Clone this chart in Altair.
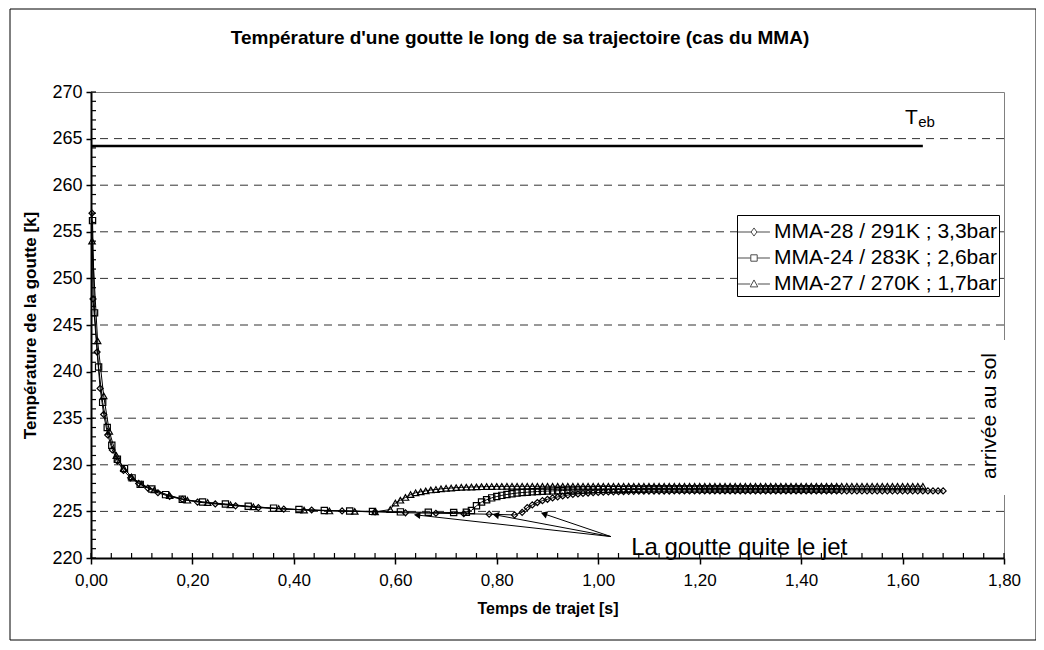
import math
import altair as alt
import pandas as pd

FONT = "Liberation Sans"

NAMES = ["MMA-28 / 291K ; 3,3bar", "MMA-24 / 283K ; 2,6bar", "MMA-27 / 270K ; 1,7bar"]

# --- MMA-28 (diamonds)
t28 = [0.002, 0.004, 0.012, 0.018, 0.025, 0.033, 0.042, 0.052, 0.064, 0.078, 0.094, 0.112,
       0.132, 0.155, 0.18, 0.21, 0.245, 0.285, 0.33, 0.38, 0.435, 0.495, 0.56, 0.62, 0.68,
       0.735, 0.785, 0.835,
       0.85, 0.86, 0.87, 0.88, 0.89, 0.90, 0.91, 0.92, 0.93, 0.94, 0.95, 0.96, 0.97, 0.98, 0.99,
       1.00, 1.01, 1.02, 1.03, 1.04, 1.05, 1.06, 1.07, 1.08, 1.09,
       1.10, 1.11, 1.12, 1.13, 1.14, 1.15, 1.16, 1.17, 1.18, 1.19,
       1.20, 1.21, 1.22, 1.23, 1.24, 1.25, 1.26, 1.27, 1.28, 1.29,
       1.30, 1.31, 1.32, 1.33, 1.34, 1.35, 1.36, 1.37, 1.38, 1.39,
       1.40, 1.41, 1.42, 1.43, 1.44, 1.45, 1.46, 1.47, 1.48, 1.49,
       1.50, 1.51, 1.52, 1.53, 1.54, 1.55, 1.56, 1.57, 1.58, 1.59,
       1.60, 1.61, 1.62, 1.63, 1.64, 1.65, 1.66, 1.67, 1.68]
v28 = [257.0, 247.8, 242.1, 238.2, 235.4, 233.2, 231.6, 230.4, 229.4, 228.6, 228.0, 227.5,
       227.0, 226.6, 226.3, 226.0, 225.8, 225.6, 225.4, 225.25, 225.15, 225.05, 224.95, 224.85, 224.8,
       224.75, 224.7, 224.62,
       224.9, 225.4, 225.7, 225.95, 226.15, 226.3, 226.45, 226.55, 226.65, 226.75, 226.82, 226.88, 226.93, 226.97, 227.0,
       227.03, 227.06, 227.08, 227.1, 227.12, 227.13, 227.14, 227.15, 227.16, 227.17,
       227.18, 227.18, 227.18, 227.18, 227.18, 227.19, 227.19, 227.19, 227.19, 227.19,
       227.2, 227.2, 227.2, 227.2, 227.2, 227.2, 227.2, 227.2, 227.2, 227.2,
       227.2, 227.2, 227.2, 227.2, 227.2, 227.2, 227.2, 227.2, 227.2, 227.2,
       227.2, 227.2, 227.2, 227.2, 227.2, 227.2, 227.2, 227.2, 227.2, 227.2,
       227.2, 227.2, 227.2, 227.2, 227.2, 227.2, 227.2, 227.2, 227.2, 227.2,
       227.2, 227.2, 227.2, 227.2, 227.2, 227.2, 227.2, 227.2, 227.2]

# --- MMA-24 (squares)
t24 = [0.003, 0.007, 0.015, 0.023, 0.032, 0.041, 0.052, 0.066, 0.081, 0.097, 0.12, 0.147,
       0.18, 0.22, 0.265, 0.31, 0.36, 0.41, 0.46, 0.51, 0.555, 0.61, 0.665, 0.715,
       0.74, 0.75, 0.76, 0.77, 0.78, 0.79, 0.80, 0.81, 0.82, 0.83, 0.84, 0.85, 0.86, 0.87, 0.88, 0.89,
       0.90, 0.91, 0.92, 0.93, 0.94, 0.95, 0.96, 0.97, 0.98, 0.99,
       1.00, 1.01, 1.02, 1.03, 1.04, 1.05, 1.06, 1.07, 1.08, 1.09,
       1.10, 1.11, 1.12, 1.13, 1.14, 1.15, 1.16, 1.17, 1.18, 1.19,
       1.20, 1.21, 1.22, 1.23, 1.24, 1.25, 1.26, 1.27, 1.28, 1.29,
       1.30, 1.31, 1.32, 1.33, 1.34, 1.35, 1.36, 1.37, 1.38, 1.39,
       1.40, 1.41, 1.42, 1.43, 1.44, 1.45, 1.46, 1.47]
v24 = [256.2, 246.3, 240.5, 236.7, 234.0, 232.1, 230.6, 229.6, 228.6, 227.9, 227.4, 226.8,
       226.3, 226.0, 225.8, 225.55, 225.35, 225.2, 225.1, 225.05, 225.0, 224.95, 224.9, 224.88,
       224.9, 225.1, 225.6, 226.0, 226.25, 226.45, 226.6, 226.72, 226.82, 226.9, 226.97, 227.02, 227.06, 227.1, 227.13, 227.16,
       227.18, 227.2, 227.22, 227.24, 227.26, 227.28, 227.3, 227.31, 227.32, 227.33,
       227.34, 227.34, 227.35, 227.35, 227.36, 227.36, 227.37, 227.37, 227.38, 227.38,
       227.4, 227.4, 227.4, 227.4, 227.4, 227.4, 227.4, 227.4, 227.4, 227.4,
       227.4, 227.4, 227.4, 227.4, 227.4, 227.4, 227.4, 227.4, 227.4, 227.4,
       227.4, 227.4, 227.4, 227.4, 227.4, 227.4, 227.4, 227.4, 227.4, 227.4,
       227.4, 227.4, 227.4, 227.4, 227.4, 227.4, 227.4, 227.4]

# --- MMA-27 (triangles)
t27 = [0.002, 0.013, 0.025, 0.036, 0.05, 0.065, 0.08, 0.1, 0.125, 0.155, 0.19, 0.23, 0.275,
       0.32, 0.37, 0.42, 0.47, 0.52, 0.56,
       0.59, 0.60, 0.61, 0.62, 0.63, 0.64, 0.65, 0.66, 0.67, 0.68, 0.69,
       0.70, 0.71, 0.72, 0.73, 0.74, 0.75, 0.76, 0.77, 0.78, 0.79,
       0.80, 0.81, 0.82, 0.83, 0.84, 0.85, 0.86, 0.87, 0.88, 0.89,
       0.90, 0.91, 0.92, 0.93, 0.94, 0.95, 0.96, 0.97, 0.98, 0.99,
       1.00, 1.01, 1.02, 1.03, 1.04, 1.05, 1.06, 1.07, 1.08, 1.09,
       1.10, 1.11, 1.12, 1.13, 1.14, 1.15, 1.16, 1.17, 1.18, 1.19,
       1.20, 1.21, 1.22, 1.23, 1.24, 1.25, 1.26, 1.27, 1.28, 1.29,
       1.30, 1.31, 1.32, 1.33, 1.34, 1.35, 1.36, 1.37, 1.38, 1.39,
       1.40, 1.41, 1.42, 1.43, 1.44, 1.45, 1.46, 1.47, 1.48, 1.49,
       1.50, 1.51, 1.52, 1.53, 1.54, 1.55, 1.56, 1.57, 1.58, 1.59,
       1.60, 1.61, 1.62, 1.63, 1.64]
v27 = [254.0, 243.3, 237.4, 233.6, 231.0, 229.6, 228.7, 227.9, 227.3, 226.7, 226.2, 225.95, 225.7,
       225.5, 225.3, 225.15, 225.05, 225.0, 224.95,
       225.2, 225.9, 226.2, 226.5, 226.8, 227.0, 227.1, 227.2, 227.3, 227.35, 227.42,
       227.47, 227.51, 227.55, 227.58, 227.6, 227.62, 227.63, 227.65, 227.66, 227.67,
       227.68, 227.68, 227.69, 227.69, 227.69, 227.69, 227.69, 227.69, 227.69, 227.69,
       227.7, 227.7, 227.7, 227.7, 227.7, 227.7, 227.7, 227.7, 227.7, 227.7,
       227.7, 227.7, 227.7, 227.7, 227.7, 227.7, 227.7, 227.7, 227.7, 227.7,
       227.7, 227.7, 227.7, 227.7, 227.7, 227.7, 227.7, 227.7, 227.7, 227.7,
       227.7, 227.7, 227.7, 227.7, 227.7, 227.7, 227.7, 227.7, 227.7, 227.7,
       227.7, 227.7, 227.7, 227.7, 227.7, 227.7, 227.7, 227.7, 227.7, 227.7,
       227.7, 227.7, 227.7, 227.7, 227.7, 227.7, 227.7, 227.7, 227.7, 227.7,
       227.7, 227.7, 227.7, 227.7, 227.7, 227.7, 227.7, 227.7, 227.7, 227.7,
       227.7, 227.7, 227.7, 227.7, 227.7]

# Boiling temperature line
teb_t = [0.0, 1.64]
teb_v = [264.2, 264.2]

# Arrows "La goutte quite le jet"
arrow_tail_t = 1.025
arrow_tail_v = 222.3
arrow_tip_t = [0.645, 0.80, 0.895]
arrow_tip_v = [224.6, 224.6, 224.7]

x_ticks = [0.0, 0.2, 0.4, 0.6, 0.8, 1.0, 1.2, 1.4, 1.6, 1.8]
y_ticks = [220, 225, 230, 235, 240, 245, 250, 255, 260, 265, 270]
grid_vals = [225, 230, 235, 240, 245, 250, 255, 260, 265]
x_minor = [round(i * 0.04, 2) for i in range(46)]
y_minor = list(range(220, 271))

W, H = 913, 466
xs = alt.Scale(domain=[0, 1.8], nice=False, zero=False)
ys = alt.Scale(domain=[220, 270], nice=False, zero=False)

X_AXIS = alt.Axis(values=x_ticks, labelExpr="replace(format(datum.value, '.2f'), '.', ',')",
                  labelFont=FONT, labelFontSize=17, labelColor="black", labelPadding=8,
                  labelFlush=False, labelOverlap=False,
                  tickColor="black", tickSize=6, tickWidth=1.5,
                  domainColor="black", domainWidth=2, grid=False, zindex=2,
                  title="Temps de trajet [s]", titleFont=FONT, titleFontSize=16,
                  titleFontWeight="bold", titleColor="black",
                  titleX=W / 2, titleY=50, titleAlign="center", titleBaseline="middle")
Y_AXIS = alt.Axis(values=y_ticks, labelFont=FONT, labelFontSize=18, labelColor="black",
                  labelPadding=4, labelFlush=False, labelOverlap=False,
                  tickColor="black", tickSize=5, tickWidth=1.5,
                  domainColor="black", domainWidth=2, grid=False, zindex=2,
                  title="Température de la goutte [k]", titleFont=FONT, titleFontSize=17,
                  titleFontWeight="bold", titleColor="black", titleAngle=270,
                  titleX=-61, titleY=H / 2, titleAlign="center", titleBaseline="middle")


def X(field):
    return alt.X(field, scale=xs, axis=X_AXIS)


def Y(field):
    return alt.Y(field, scale=ys, axis=Y_AXIS)


rows = []
for name, ts, vs in zip(NAMES, [t28, t24, t27], [v28, v24, v27]):
    for i, (t, v) in enumerate(zip(ts, vs)):
        rows.append({"serie": name, "t": t, "T": v, "ordre": i})
df = pd.DataFrame(rows)

one = pd.DataFrame({"a": [0]})

# frame around the whole chart
frame = alt.Chart(one).mark_rect(fillOpacity=0, stroke="black", strokeWidth=1).encode(
    x=alt.value(-81), x2=alt.value(945), y=alt.value(-83), y2=alt.value(548))

grid = alt.Chart(pd.DataFrame({"T": grid_vals})).mark_rule(
    color="#333333", strokeWidth=1, strokeDash=[8, 6]).encode(y=Y("T:Q"))

lines = alt.Chart(df).mark_line(color="black", strokeWidth=1).encode(
    x=X("t:Q"), y=Y("T:Q"), detail="serie:N", order="ordre:Q")

pts = alt.Chart(df).mark_point(filled=False, color="black", strokeWidth=1.2, opacity=1).encode(
    x=X("t:Q"), y=Y("T:Q"),
    shape=alt.Shape("serie:N", scale=alt.Scale(domain=NAMES, range=["diamond", "square", "triangle-up"]),
                    legend=None),
    size=alt.Size("serie:N", scale=alt.Scale(domain=NAMES, range=[36, 42, 40]), legend=None))

legend_paths = [
    "M-1.1,0H-0.2M0.2,0H1.1M0,-0.28L0.2,0L0,0.28L-0.2,0Z",
    "M-1.1,0H-0.22M0.22,0H1.1M-0.22,-0.22H0.22V0.22H-0.22Z",
    "M-1.1,0H-0.26M0.26,0H1.1M0,-0.28L0.26,0.2H-0.26Z",
]
leg = alt.Chart(df).transform_filter("datum.t < -1").mark_point(
    filled=False, color="black", strokeWidth=1).encode(
    x=X("t:Q"), y=Y("T:Q"),
    shape=alt.Shape("serie:N", scale=alt.Scale(domain=NAMES, range=legend_paths),
                    legend=alt.Legend(title=None, orient="none", legendX=646, legendY=123,
                                      labelFont=FONT, labelFontSize=21, labelColor="black",
                                      labelLimit=0,
                                      symbolSize=841, symbolStrokeColor="black", symbolStrokeWidth=1,
                                      symbolFillColor="white", labelOffset=5, rowPadding=1,
                                      padding=2, strokeColor="black", fillColor="white")))

teb = alt.Chart(pd.DataFrame({"t": teb_t, "T": teb_v})).mark_line(color="black", strokeWidth=2.5).encode(
    x=X("t:Q"), y=Y("T:Q"))

teb_T = alt.Chart(pd.DataFrame({"t": [1.605], "T": [266.6]})).mark_text(
    text="T", font=FONT, fontSize=21, align="left", baseline="alphabetic", color="black").encode(
    x=X("t:Q"), y=Y("T:Q"))
teb_eb = alt.Chart(pd.DataFrame({"t": [1.631], "T": [266.2]})).mark_text(
    text="eb", font=FONT, fontSize=15, align="left", baseline="alphabetic", color="black").encode(
    x=X("t:Q"), y=Y("T:Q"))

# arrows
sx = W / 1.8
sy = H / 50.0
adf = pd.DataFrame({"t0": [arrow_tail_t] * 3, "v0": [arrow_tail_v] * 3,
                    "t": arrow_tip_t, "T": arrow_tip_v})
adf["ang"] = [(math.degrees(math.atan2((t - arrow_tail_t) * sx, (v - arrow_tail_v) * sy)) + 360) % 360
              for t, v in zip(arrow_tip_t, arrow_tip_v)]
arr_lines = alt.Chart(adf).mark_rule(color="black", strokeWidth=1).encode(
    x=X("t0:Q"), y=Y("v0:Q"), x2="t:Q", y2="T:Q")
arr_heads = alt.Chart(adf).mark_point(shape="triangle", filled=True, color="black", size=55, opacity=1).encode(
    x=X("t:Q"), y=Y("T:Q"), angle=alt.Angle("ang:Q", scale=None))

jet_txt = alt.Chart(pd.DataFrame({"t": [1.065], "T": [221.1]})).mark_text(
    text="La goutte quite le jet", font=FONT, fontSize=24, align="left", baseline="middle", color="black").encode(
    x=X("t:Q"), y=Y("T:Q"))

sol_box = alt.Chart(one).mark_rect(fill="white", stroke=None).encode(
    x=alt.value(884), x2=alt.value(922), y=alt.value(248), y2=alt.value(403))
sol_txt = alt.Chart(one).mark_text(
    text="arrivée au sol", font=FONT, fontSize=21, angle=270, align="center", baseline="middle",
    color="black").encode(x=alt.value(899), y=alt.value(324))

title = alt.Chart(one).mark_text(
    text="Température d'une goutte le long de sa trajectoire (cas du MMA)", font=FONT, fontSize=19,
    fontWeight="bold", align="center", baseline="middle", color="black").encode(
    x=alt.value(429), y=alt.value(-54))

y_minor_r = alt.Chart(pd.DataFrame({"T": y_minor})).mark_rule(color="black", strokeWidth=1.2).encode(
    y=Y("T:Q"), x=alt.value(0), x2=alt.value(5))
x_minor_r = alt.Chart(pd.DataFrame({"t": x_minor})).mark_rule(color="black", strokeWidth=1.2).encode(
    x=X("t:Q"), y=alt.value(H), y2=alt.value(H - 5))

chart = alt.layer(
    frame, grid, sol_box, teb, lines, pts, leg, arr_lines, arr_heads, teb_T, teb_eb, jet_txt,
    sol_txt, title, y_minor_r, x_minor_r
).resolve_scale(shape="independent", size="independent").properties(
    width=W, height=H,
    autosize=alt.AutoSizeParams(type="none"),
    padding={"left": 83, "top": 84, "right": 32, "bottom": 84},
    background="white",
).configure_view(stroke="#808080", strokeWidth=1)

chart.save("out.html", embed_options={"renderer": "svg", "actions": False})
